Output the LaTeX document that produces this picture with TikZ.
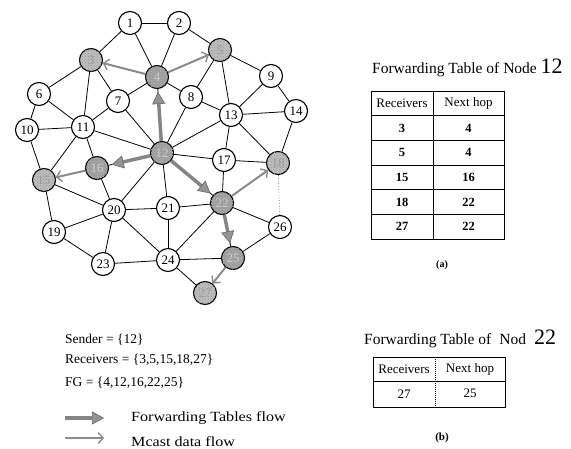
\documentclass[tikz,border=0pt]{standalone}
\usepackage{fontspec}
\setmainfont{Liberation Serif}
\newfontfamily\widefont[FakeStretch=1.15]{Liberation Serif}
\usetikzlibrary{arrows.meta,patterns}

\begin{document}
\begin{tikzpicture}[x=1pt,y=-1pt,
  vertex/.style={circle,draw=black,line width=1.1pt,fill=white,minimum size=23pt,inner sep=0pt,
                 font=\fontsize{13}{13}\selectfont},
  recv/.style={vertex,fill=gray!50,text=gray!80,postaction={pattern=crosshatch dots,pattern color=gray!85}},
  fgnode/.style={vertex,fill=gray!78,text=gray!40,postaction={pattern=crosshatch dots,pattern color=gray!55}},
  link/.style={line width=0.8pt,draw=black},
  dotlink/.style={line width=0.8pt,draw=gray,dotted},
  fwd/.style={line width=3.5pt,draw=black!48,shorten >=3pt,
              -{Triangle[length=12pt,width=13pt,color=black!60,fill=black!42,line width=0.6pt]}},
  mcast/.style={line width=2pt,draw=black!45,
              -{Straight Barb[length=5pt,width=11pt,line width=1.4pt]}},
  caption/.style={font=\fontsize{13.5}{13.5}\selectfont,anchor=west,inner sep=0pt},
  flowtext/.style={font=\widefont\fontsize{14}{14}\selectfont,anchor=west,inner sep=0pt},
  title/.style={anchor=west,inner sep=0pt,font=\fontsize{15.5}{15.5}\selectfont},
  cell/.style={font=\fontsize{13}{13}\selectfont,inner sep=0pt},
  cellnum/.style={font=\fontsize{12.5}{12.5}\selectfont\bfseries,inner sep=0pt},
  grid/.style={line width=1pt,draw=black},
]
\useasboundingbox (0,0) rectangle (571,448);

% ---------- network nodes ----------
\node[vertex] (n1)  at (130,23)  {1};
\node[vertex] (n2)  at (179,23)  {2};
\node[recv]   (n3)  at (91,60)   {3};
\node[fgnode] (n4)  at (157,77)  {4};
\node[recv]   (n5)  at (220,50)  {5};
\node[vertex] (n6)  at (39,94)   {6};
\node[vertex] (n7)  at (118,101) {7};
\node[vertex] (n8)  at (191,97)  {8};
\node[vertex] (n9)  at (271,76)  {9};
\node[vertex] (n10) at (27,130)  {10};
\node[vertex] (n11) at (83,127)  {11};
\node[fgnode] (n12) at (162,153) {12};
\node[vertex] (n13) at (231,115) {13};
\node[vertex] (n14) at (296,111) {14};
\node[recv]   (n15) at (44,180)  {15};
\node[fgnode] (n16) at (97,168)  {16};
\node[vertex] (n17) at (224,160) {17};
\node[recv]   (n18) at (278,163) {18};
\node[vertex] (n19) at (54,232)  {19};
\node[vertex] (n20) at (114,210) {20};
\node[vertex] (n21) at (168,208) {21};
\node[fgnode] (n22) at (222,203) {22};
\node[vertex] (n23) at (103,264) {23};
\node[vertex] (n24) at (168,260) {24};
\node[fgnode] (n25) at (233,258) {25};
\node[vertex] (n26) at (280,227) {26};
\node[recv]   (n27) at (205,293) {27};

% ---------- links ----------
\foreach \a/\b in {n1/n2,n1/n3,n1/n4,n2/n4,n2/n5,n3/n4,n3/n6,n3/n7,n3/n11,
  n4/n5,n4/n7,n4/n8,n4/n12,n5/n8,n5/n9,n5/n13,n6/n10,n6/n11,n7/n11,n7/n12,
  n8/n12,n8/n13,n9/n13,n9/n14,n10/n11,n10/n15,n11/n12,n11/n15,n11/n16,
  n12/n13,n12/n16,n12/n17,n12/n20,n12/n21,n12/n22,n13/n14,n13/n17,n13/n18,
  n14/n18,n15/n16,n15/n19,n15/n20,n16/n20,n17/n18,n17/n22,n18/n22,
  n19/n20,n19/n23,n20/n21,n20/n23,n20/n24,n21/n22,n21/n24,n22/n24,n22/n25,
  n22/n26,n23/n24,n24/n25,n24/n27,n25/n26,n25/n27}
  \draw[link] (\a) -- (\b);
\draw[dotlink] (n18) -- (n26);

% ---------- flows ----------
\draw[fwd] (n12) -- (n4);
\draw[fwd] (n12) -- (n16);
\draw[fwd] (n12) -- (n22);
\draw[fwd] (n22) -- (n25);
\draw[mcast] (n4) -- (n3);
\draw[mcast] (n4) -- (n5);
\draw[mcast] (n16) -- (n15);
\draw[mcast] (n22) -- (n18);
\draw[mcast] (n25) -- (n27);

% ---------- forwarding table of node 12 ----------
\node[title] (ta) at (372,68)
  {Forwarding Table of Node \fontsize{22}{22}\selectfont 12};
\draw[grid] (371,91) rectangle (504,239);
\draw[grid] (433,91) -- (433,239);
\foreach \y in {115.7,140.3,165,189.7,214.3} \draw[grid] (371,\y) -- (504,\y);
\node[cell] (ha1) at (402,103.3) {Receivers};
\node[cell] (ha2) at (468.5,103.3) {Next hop};
\foreach \r/\h [count=\i] in {3/4,5/4,15/16,18/22,27/22}{
  \node[cellnum] at (402,103.3+24.7*\i) {\r};
  \node[cellnum] at (468.5,103.3+24.7*\i) {\h};
}
\node[cell,font=\fontsize{10}{10}\selectfont\bfseries] (capa) at (442,265) {(a)};

% ---------- forwarding table of node 22 ----------
\node[title] (tb) at (364,339)
  {Forwarding Table of\hspace{8pt}Nod\hspace{8pt}\fontsize{22}{22}\selectfont 22};
\draw[grid] (373,357) rectangle (505,407);
\draw[grid,densely dotted] (435,357) -- (435,407);
\draw[grid] (373,381) -- (505,381);
\node[cell] (hb1) at (404,369) {Receivers};
\node[cell] (hb2) at (470,369) {Next hop};
\node[cell] (rb1) at (404,394) {27};
\node[cell] (rb2) at (470,393) {25};
\node[cell,font=\fontsize{11}{11}\selectfont\bfseries] (capb) at (442,438) {(b)};

% ---------- legend ----------
\node[caption] (sender) at (65,340) {Sender = \{12\}};
\node[caption] (recvs)  at (65,360) {Receivers = \{3,5,15,18,27\}};
\node[caption] (fgset)  at (65,383) {FG = \{4,12,16,22,25\}};
\coordinate (fa) at (65,418);
\coordinate (fb) at (104,418);
\draw[fwd,shorten >=0pt] (fa) -- (fb);
\node[flowtext] (fwdtxt) at (131,418) {Forwarding Tables flow};
\coordinate (ma) at (65,438);
\coordinate (mb) at (104,438);
\draw[mcast] (ma) -- (mb);
\node[flowtext] (mctxt) at (131,442) {Mcast data flow};
\end{tikzpicture}
\end{document}
